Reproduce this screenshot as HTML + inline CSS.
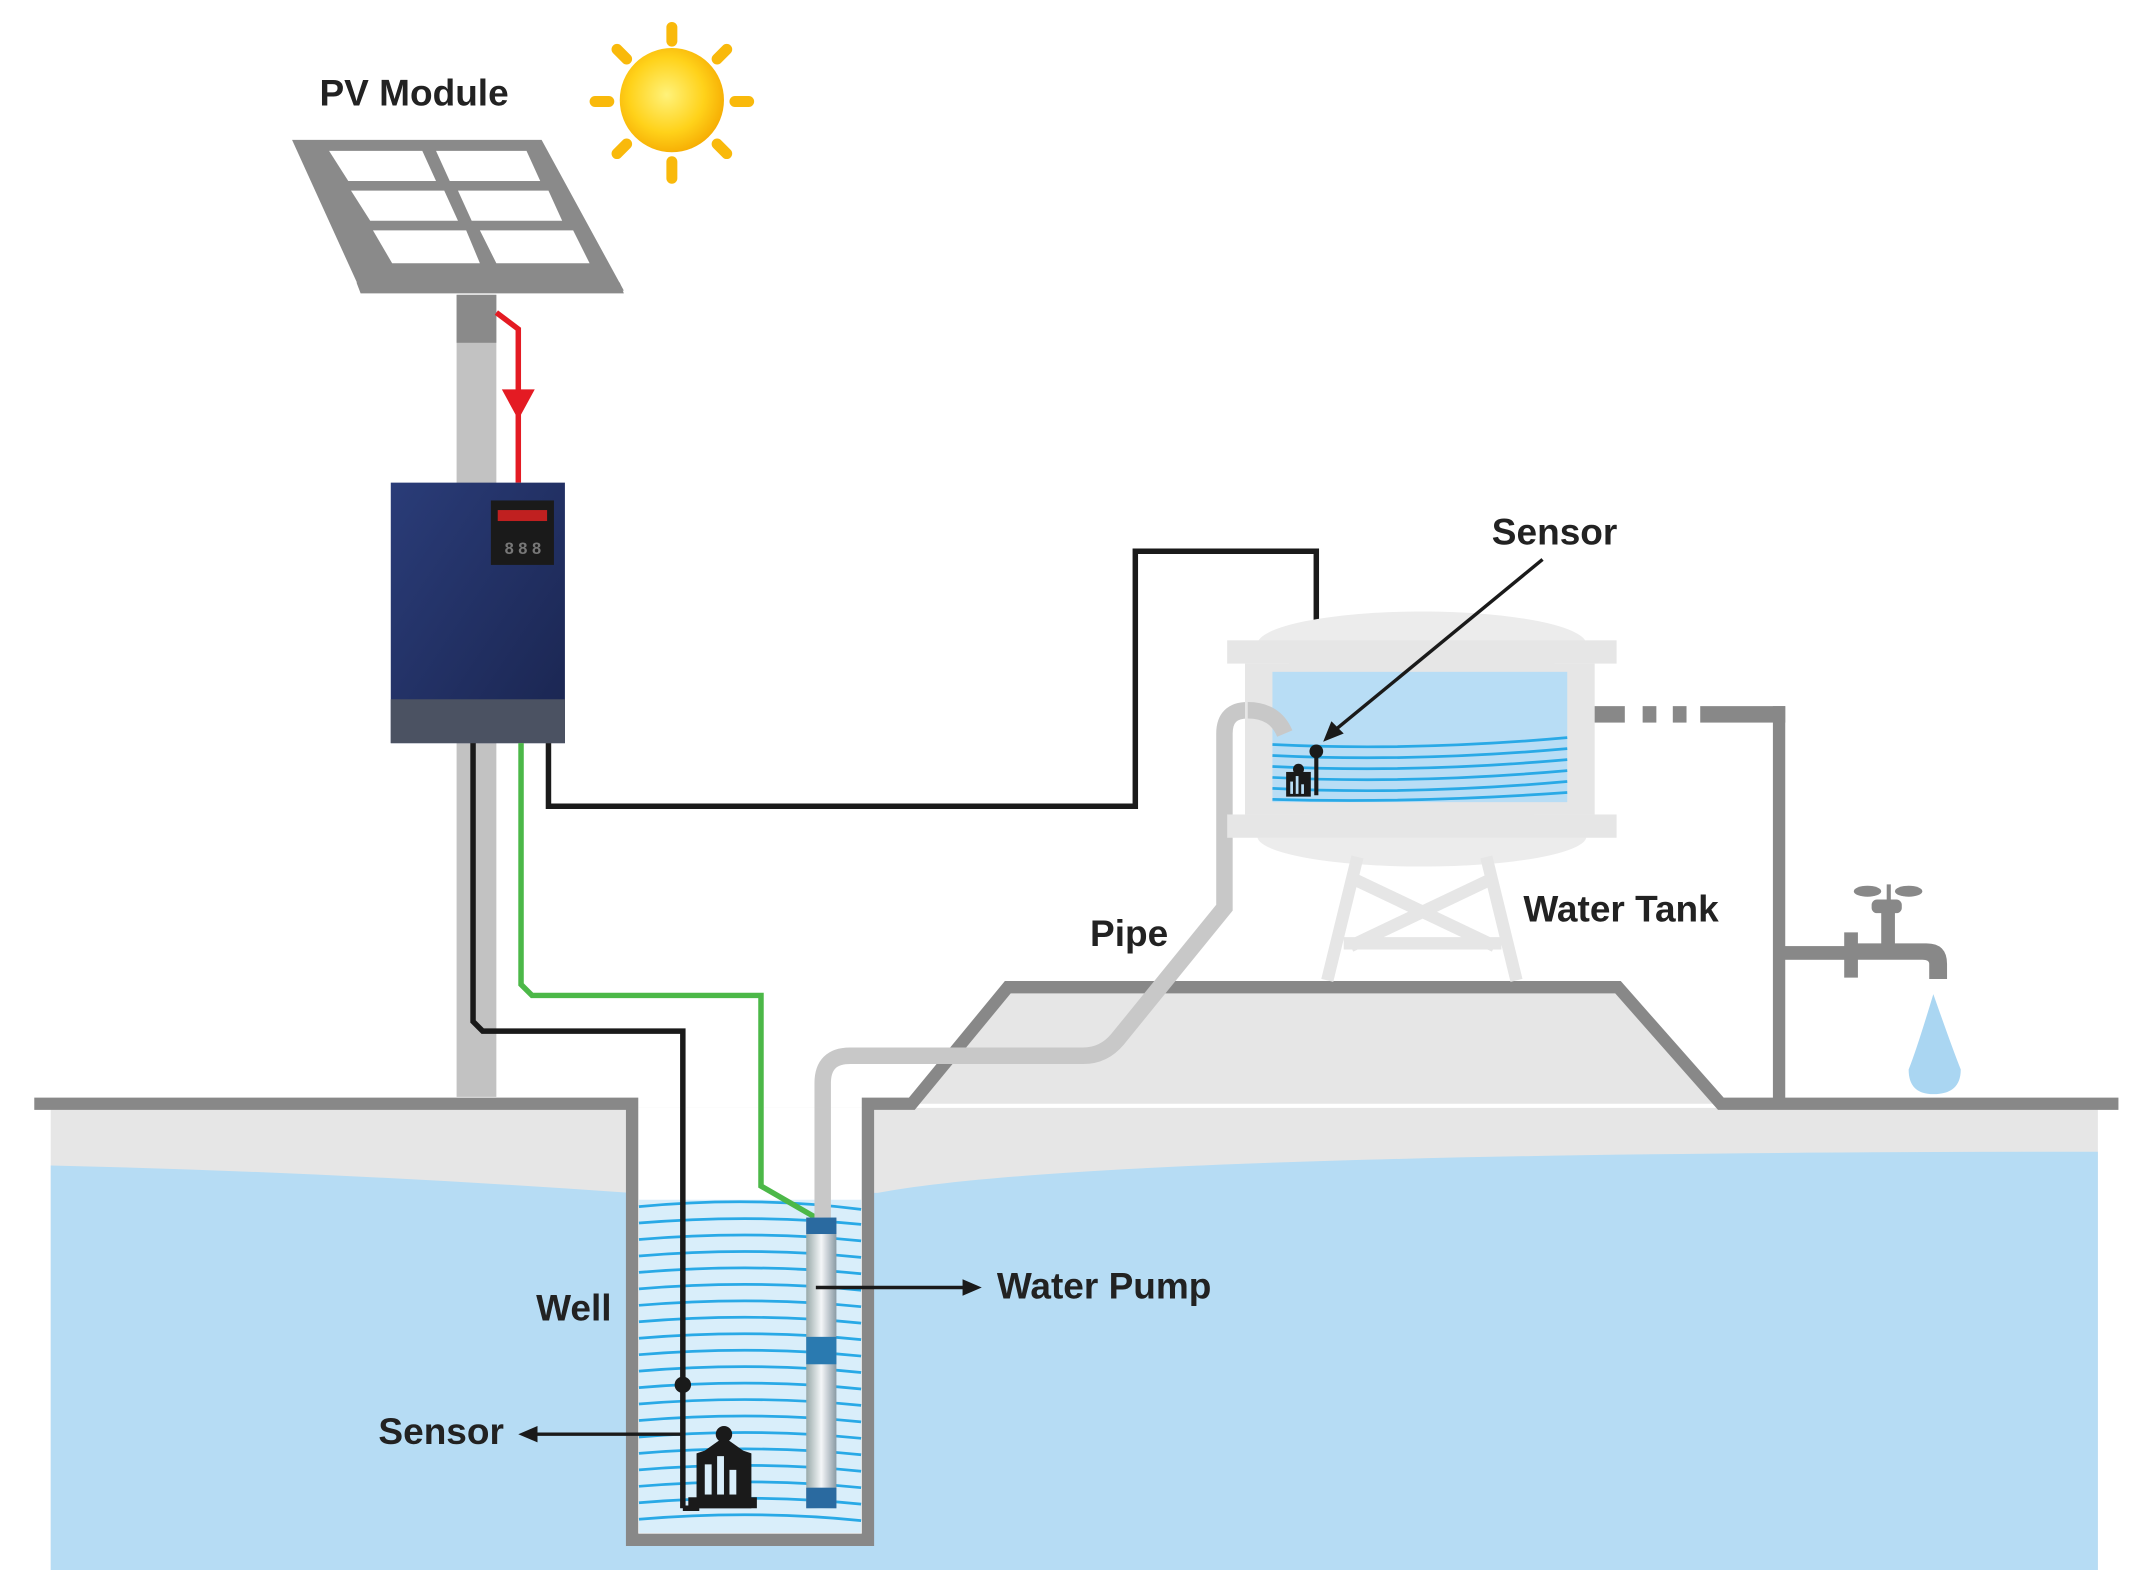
<!DOCTYPE html>
<html><head><meta charset="utf-8"><style>
html,body{margin:0;padding:0;background:#fff;}
svg{display:block;}
text{font-family:"Liberation Sans",Arial,sans-serif;font-weight:bold;fill:#222;}
</style></head><body>
<svg width="2139" height="1596" viewBox="0 0 1560 1164" preserveAspectRatio="none" xmlns="http://www.w3.org/2000/svg">
<defs>
<radialGradient id="sun" cx="0.45" cy="0.45" r="0.6"><stop offset="0" stop-color="#fff27a"/><stop offset="0.6" stop-color="#ffd21a"/><stop offset="1" stop-color="#f5a800"/></radialGradient>
<linearGradient id="inv" x1="0" y1="0" x2="1" y2="1"><stop offset="0" stop-color="#2a3c78"/><stop offset="1" stop-color="#1a2550"/></linearGradient>
<linearGradient id="pump" x1="0" x2="1"><stop offset="0" stop-color="#9aa"/><stop offset="0.5" stop-color="#f4f6f8"/><stop offset="1" stop-color="#8a9aa4"/></linearGradient>
</defs>
<rect x="37" y="808" width="1493" height="337" fill="#e6e6e6"/>
<path d="M37 850 Q250 855 460 870 L640 870 Q800 840 1530 840 L1530 1145 L37 1145 Z" fill="#b6dcf4"/>
<path d="M665 805 L735 720 L1180 720 L1255 805 Z" fill="#e6e6e6"/>
<rect x="462" y="808" width="172" height="318" fill="#fff"/>
<rect x="466" y="875" width="162" height="243" fill="#d9eefa"/>
<g stroke="#29a9e6" stroke-width="2" fill="none">
<path d="M466 880 Q550 872 628 882"/><path d="M466 892 Q550 885 628 893"/><path d="M466 904 Q550 897 628 905"/>
<path d="M466 916 Q550 909 628 917"/><path d="M466 928 Q550 921 628 929"/><path d="M466 940 Q550 933 628 941"/>
<path d="M466 952 Q550 945 628 953"/><path d="M466 964 Q550 957 628 965"/><path d="M466 976 Q550 969 628 977"/>
<path d="M466 988 Q550 981 628 989"/><path d="M466 1000 Q550 993 628 1001"/><path d="M466 1012 Q550 1005 628 1013"/>
<path d="M466 1024 Q550 1017 628 1025"/><path d="M466 1036 Q550 1029 628 1037"/><path d="M466 1048 Q550 1041 628 1049"/>
<path d="M466 1060 Q550 1053 628 1061"/><path d="M466 1072 Q550 1065 628 1073"/><path d="M466 1084 Q550 1077 628 1085"/>
<path d="M466 1096 Q550 1089 628 1097"/><path d="M466 1108 Q550 1101 628 1109"/>
</g>
<path d="M25 805 L461 805 L461 1123 L633 1123 L633 805 L665 805 L735 720 L1180 720 L1255 805 L1545 805" fill="none" stroke="#888" stroke-width="9"/>
<rect x="333" y="215" width="29" height="585" fill="#c2c2c2"/>
<rect x="333" y="215" width="29" height="35" fill="#8a8a8a"/>
<polygon points="213,102 395,102 455,212 263,212" fill="#8a8a8a"/>
<g fill="#fff">
<polygon points="240,110 308,110 318,132 254,132"/><polygon points="318,110 384,110 394,132 328,132"/>
<polygon points="256,139 324,139 334,161 270,161"/><polygon points="334,139 400,139 410,161 344,161"/>
<polygon points="272,168 340,168 350,192 286,192"/><polygon points="350,168 418,168 430,192 362,192"/>
</g>
<polygon points="260,206 452,206 455,214 263,214" fill="#8a8a8a"/>
<g stroke="#f9b90b" stroke-width="8" stroke-linecap="round">
<line x1="490" y1="20" x2="490" y2="30"/><line x1="490" y1="118" x2="490" y2="130"/>
<line x1="434" y1="74" x2="444" y2="74"/><line x1="536" y1="74" x2="546" y2="74"/>
<line x1="450" y1="36" x2="457" y2="43"/><line x1="523" y1="105" x2="530" y2="112"/>
<line x1="530" y1="36" x2="523" y2="43"/><line x1="457" y1="105" x2="450" y2="112"/>
</g>
<circle cx="490" cy="73" r="38" fill="url(#sun)"/>
<path d="M362 228 L378 240 L378 352" fill="none" stroke="#e41b23" stroke-width="4"/>
<polygon points="366,284 390,284 378,306" fill="#e41b23"/>
<rect x="285" y="352" width="127" height="190" fill="url(#inv)"/>
<rect x="285" y="510" width="127" height="32" fill="#4b5262"/>
<rect x="358" y="365" width="46" height="47" fill="#1a1a1a"/>
<rect x="363" y="372" width="36" height="8" fill="#c02020"/>
<text x="368" y="404" font-size="12" style="fill:#777">8 8 8</text>
<path d="M400 542 L400 588 L828 588 L828 402 L960 402 L960 548" fill="none" stroke="#1a1a1a" stroke-width="4"/>
<path d="M345 542 L345 745 L352 752 L498 752 L498 1100" fill="none" stroke="#1a1a1a" stroke-width="4"/>
<path d="M380 542 L380 718 L388 726 L555 726 L555 865 L595 888" fill="none" stroke="#4cb848" stroke-width="4"/>
<circle cx="498" cy="1010" r="6" fill="#1a1a1a"/>
<path d="M600 1095 L600 790 Q600 770 620 770 L790 770 Q805 770 815 758 L893 662 L893 535 Q893 518 910 518 Q930 518 937 535" fill="none" stroke="#c8c8c8" stroke-width="12"/>
<rect x="588" y="888" width="22" height="212" fill="url(#pump)"/>
<rect x="588" y="888" width="22" height="12" fill="#2a6aa0"/>
<rect x="588" y="975" width="22" height="20" fill="#2a7ab0"/>
<rect x="588" y="1085" width="22" height="15" fill="#2a6aa0"/>
<path d="M498 1100 L510 1100" stroke="#1a1a1a" stroke-width="4"/>
<g fill="#1a1a1a">
<circle cx="528" cy="1046" r="6"/>
<polygon points="514,1058 528,1048 542,1058 548,1060 548,1100 508,1100 508,1060"/>
<rect x="502" y="1092" width="50" height="8"/>
</g>
<g fill="#d9eefa"><rect x="514" y="1068" width="5" height="22"/><rect x="523" y="1062" width="5" height="28"/><rect x="532" y="1072" width="5" height="18"/></g>
<line x1="498" y1="1046" x2="388" y2="1046" stroke="#1a1a1a" stroke-width="2.5"/>
<polygon points="378,1046 392,1040 392,1052" fill="#1a1a1a"/>
<line x1="595" y1="939" x2="705" y2="939" stroke="#1a1a1a" stroke-width="2.5"/>
<polygon points="716,939 702,933 702,945" fill="#1a1a1a"/>
<ellipse cx="1037" cy="470" rx="120" ry="24" fill="#ececec"/>
<ellipse cx="1037" cy="610" rx="120" ry="22" fill="#ececec"/>
<g stroke="#e6e6e6" stroke-width="9" fill="none">
<path d="M990 625 L968 715 M1084 625 L1106 715 M985 640 L1090 690 M1090 640 L985 690 M980 688 L1095 688"/>
</g>
<rect x="895" y="467" width="284" height="17" fill="#e6e6e6"/>
<rect x="895" y="594" width="284" height="17" fill="#e6e6e6"/>
<rect x="908" y="484" width="255" height="110" fill="#e6e6e6"/>
<rect x="928" y="490" width="215" height="95" fill="#b8ddf5"/>
<g stroke="#29a9e6" stroke-width="2" fill="none">
<path d="M928 543 Q1030 548 1143 538"/><path d="M928 551 Q1030 556 1143 546"/><path d="M928 559 Q1030 564 1143 554"/>
<path d="M928 567 Q1030 572 1143 562"/><path d="M928 575 Q1030 580 1143 570"/><path d="M928 583 Q1030 586 1143 578"/>
</g>
<path d="M910 518 Q930 518 937 535" fill="none" stroke="#c8c8c8" stroke-width="12"/>
<path d="M960 548 L960 580" stroke="#1a1a1a" stroke-width="3"/>
<circle cx="960" cy="548" r="5" fill="#1a1a1a"/>
<g fill="#1a1a1a"><circle cx="947" cy="561" r="4"/><rect x="938" y="563" width="18" height="18"/></g>
<g fill="#b8ddf5"><rect x="941" y="570" width="2" height="9"/><rect x="945" y="566" width="2" height="13"/><rect x="949" y="572" width="2" height="7"/></g>
<line x1="1125" y1="408" x2="973" y2="533" stroke="#1a1a1a" stroke-width="2.5"/>
<polygon points="965,541 971,526 980,535" fill="#1a1a1a"/>
<g fill="#888">
<rect x="1163" y="515" width="22" height="12"/><rect x="1198" y="515" width="10" height="12"/><rect x="1220" y="515" width="10" height="12"/>
<rect x="1240" y="515" width="62" height="12"/><rect x="1293" y="515" width="9" height="290"/>
<rect x="1300" y="690" width="50" height="10"/>
<rect x="1345" y="680" width="10" height="33"/>
<path d="M1350 688 L1405 688 Q1420 688 1420 703 L1420 714 L1407 714 L1407 703 Q1407 700 1402 700 L1350 700 Z"/>
<rect x="1372" y="660" width="10" height="30"/>
<rect x="1365" y="656" width="22" height="10" rx="4"/>
<rect x="1376" y="645" width="3" height="15"/>
<ellipse cx="1362" cy="650" rx="10" ry="4"/><ellipse cx="1392" cy="650" rx="10" ry="4"/>
</g>
<path d="M1410 725 Q1398 765 1392 780 Q1392 798 1410 798 Q1430 798 1430 780 Q1424 765 1410 725 Z" fill="#aad6f2"/>
<text x="233" y="77" font-size="27">PV Module</text>
<text x="1088" y="397" font-size="27">Sensor</text>
<text x="1111" y="672" font-size="27">Water Tank</text>
<text x="795" y="690" font-size="27">Pipe</text>
<text x="727" y="947" font-size="27">Water Pump</text>
<text x="391" y="963" font-size="27">Well</text>
<text x="276" y="1053" font-size="27">Sensor</text>
</svg>
</body></html>
